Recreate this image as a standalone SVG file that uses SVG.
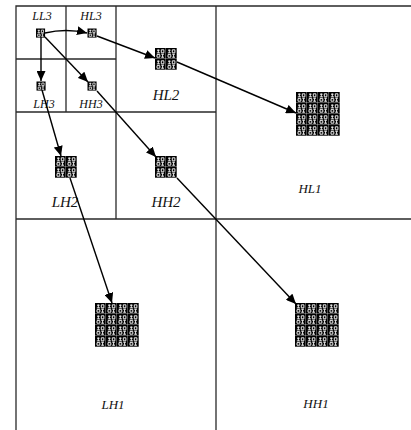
<svg xmlns="http://www.w3.org/2000/svg" xmlns:xlink="http://www.w3.org/1999/xlink" width="411" height="430" viewBox="0 0 411 430">
<style>
.grid{stroke:#2a2a2a;stroke-width:1.3;fill:none}
.conn{stroke:#000;stroke-width:1.4;fill:none;marker-end:url(#ah)}
.lab{font-family:"Liberation Serif",serif;font-style:italic;fill:#111;text-anchor:middle}
.s3{font-size:12px}
.s2{font-size:15px}
.s1{font-size:13px}
</style>
<defs>
<marker id="ah" markerUnits="userSpaceOnUse" markerWidth="11" markerHeight="9" refX="10" refY="4.5" orient="auto">
<path d="M0,0 L10,4.5 L0,9 z" fill="#000"/>
</marker>
<g id="cell">
<rect x="0" y="0" width="10.7" height="10.7" fill="#000"/>
<path d="M2,2.2h2.6M3.3,1.5v3.4M1.8,4.9h3.2M6.3,1.8h2.6v3h-2.6zM2,6.6h2.8v2.6h-2.8zM6.2,6.2h2.8M7.6,6.2v3.2M6.2,9.2h2.8" stroke="#fff" stroke-width="0.9" fill="none"/>
</g>
<g id="mid">
<use xlink:href="#cell" x="0" y="0"/><use xlink:href="#cell" x="11" y="0"/>
<use xlink:href="#cell" x="0" y="11"/><use xlink:href="#cell" x="11" y="11"/>
</g>
<g id="big">
<use xlink:href="#mid" x="0" y="0"/><use xlink:href="#mid" x="22" y="0"/>
<use xlink:href="#mid" x="0" y="22"/><use xlink:href="#mid" x="22" y="22"/>
</g>
</defs>
<rect width="411" height="430" fill="#fff"/>
<g id="grid" class="grid">
<path d="M16,430V6H411"/>
<path d="M216,6V430M16,219H411"/>
<path d="M116,6V219M16,112H216"/>
<path d="M66,6V112M16,59H116"/>
</g>
<g id="LL3"><use xlink:href="#cell" transform="translate(36,28.5) scale(0.85)"/><text class="lab s3" x="42" y="20">LL3</text></g>
<g id="HL3"><use xlink:href="#cell" transform="translate(87.5,28.5) scale(0.85)"/><text class="lab s3" x="91" y="20">HL3</text></g>
<g id="LH3"><use xlink:href="#cell" transform="translate(36.5,81.5) scale(0.85)"/><text class="lab s3" x="44" y="108">LH3</text></g>
<g id="HH3"><use xlink:href="#cell" transform="translate(87.5,81.5) scale(0.85)"/><text class="lab s3" x="91" y="108">HH3</text></g>
<g id="HL2"><use xlink:href="#mid" x="155" y="48"/><text class="lab s2" x="166" y="100">HL2</text></g>
<g id="LH2"><use xlink:href="#mid" x="55" y="156"/><text class="lab s2" x="65" y="207">LH2</text></g>
<g id="HH2"><use xlink:href="#mid" x="155" y="156"/><text class="lab s2" x="166" y="207">HH2</text></g>
<g id="HL1"><use xlink:href="#big" x="296" y="92"/><text class="lab s1" x="310" y="193">HL1</text></g>
<g id="LH1"><use xlink:href="#big" x="95" y="303"/><text class="lab s1" x="113" y="409">LH1</text></g>
<g id="HH1"><use xlink:href="#big" x="295" y="303"/><text class="lab s1" x="316" y="408">HH1</text></g>
<g id="connectors">
<path class="conn" d="M45,33 Q66,28 87,33"/>
<path class="conn" d="M41,37 V81"/>
<path class="conn" d="M45,37 L88,82"/>
<path class="conn" d="M97,36 L155,58"/>
<path class="conn" d="M177,62 L296,113"/>
<path class="conn" d="M42,90 L61,156"/>
<path class="conn" d="M70,178 L112,303"/>
<path class="conn" d="M97,91 L156,157"/>
<path class="conn" d="M177,178 L296,304"/>
</g>
</svg>
